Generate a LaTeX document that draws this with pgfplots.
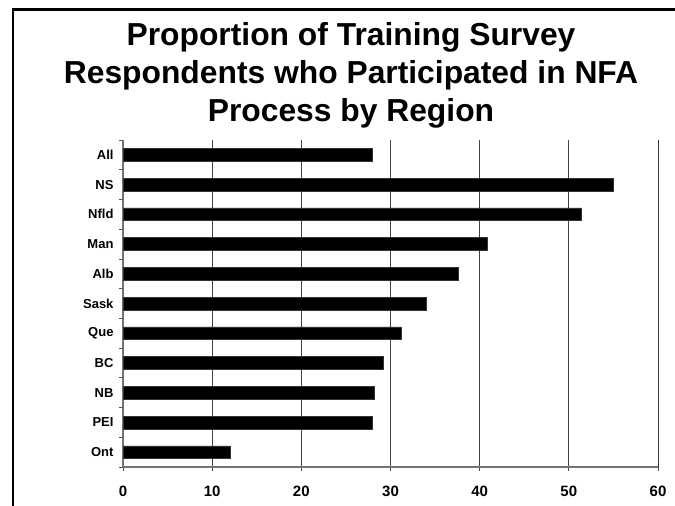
\documentclass[border=0pt]{standalone}
\usepackage{fontspec}
\setmainfont{Liberation Sans}
\usepackage{pgfplots}
\pgfplotsset{compat=1.18}

% Share of respondents (%) by region, listed top to bottom
\pgfplotstableread{
pos value
0  28.0
1  55.0
2  51.4
3  40.9
4  37.6
5  34.0
6  31.2
7  29.2
8  28.2
9  27.9
10 12.0
}\regiondata

\newcommand{\titlefont}{\bfseries\fontsize{31.8bp}{38bp}\selectfont}

\begin{document}
\begin{tikzpicture}
\useasboundingbox (0,0) rectangle (675bp,506bp);
% outer frame (left and top edges)
\draw[line width=2.3bp] (12.7bp,-5bp) -- (12.7bp,496.5bp) -- (690bp,496.5bp);
% title
\node[anchor=base,inner sep=0pt,font=\titlefont] at (351bp,460bp) {Proportion of Training Survey};
\node[anchor=base,inner sep=0pt,font=\titlefont] at (351bp,422bp) {Respondents who Participated in NFA};
\node[anchor=base,inner sep=0pt,font=\titlefont] at (351bp,384.3bp) {Process by Region};

\begin{axis}[
  at={(123bp,39bp)}, anchor=south west,
  scale only axis, width=535bp, height=327bp,
  xbar, bar width=12.7bp,
  xmin=0, xmax=60, ymin=-0.5, ymax=10.5,
  y dir=reverse,
  axis x line*=bottom, axis y line*=left,
  axis line style={black!55, line width=1.2bp},
  xtick={0,10,...,60},
  ytick={0,...,10},
  yticklabels={All,NS,Nfld,Man,Alb,Sask,Que,BC,NB,PEI,Ont},
  minor ytick={-0.5,0.5,...,10.5},
  tick align=outside,
  major tick length=4bp, minor tick length=4bp,
  major x tick style={black!70, line width=0.8bp},
  major y tick style={draw=none},
  minor y tick style={black!70, line width=0.8bp},
  xmajorgrids,
  major grid style={black!75, line width=0.9bp},
  /pgf/number format/assume math mode=true,
  xticklabel style={font=\bfseries\fontsize{15bp}{15bp}\selectfont, yshift=-12bp},
  yticklabel style={font=\bfseries\fontsize{13bp}{13bp}\selectfont, xshift=-2bp},
]
\addplot[fill=black, draw=black!80, line width=0.5bp] table[x=value, y=pos] {\regiondata};
\draw[black, line width=0.9bp] (axis cs:60,-0.5) -- (axis cs:60,10.5);
\end{axis}
\end{tikzpicture}
\end{document}
